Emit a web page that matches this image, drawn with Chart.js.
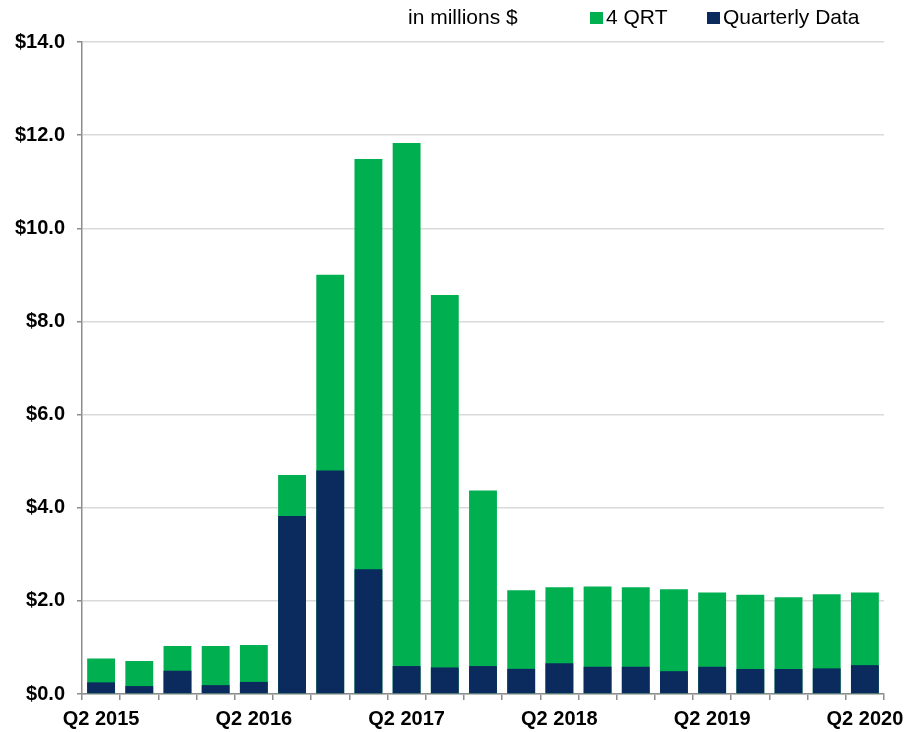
<!DOCTYPE html>
<html>
<head>
<meta charset="utf-8">
<script src="https://cdn.jsdelivr.net/npm/chart.js@4.4.1/dist/chart.umd.min.js"></script>
<style>
  html, body { margin: 0; padding: 0; background: #fff; }
  #wrap { width: 904px; height: 732px; position: relative; }
</style>
</head>
<body>
<div id="wrap"><canvas id="c" width="904" height="732"></canvas></div>
<script>
const quarters = [
  "Q2 2015","Q3 2015","Q4 2015","Q1 2016",
  "Q2 2016","Q3 2016","Q4 2016","Q1 2017",
  "Q2 2017","Q3 2017","Q4 2017","Q1 2018",
  "Q2 2018","Q3 2018","Q4 2018","Q1 2019",
  "Q2 2019","Q3 2019","Q4 2019","Q1 2020",
  "Q2 2020"
];
const fourQRT = [0.76, 0.71, 1.03, 1.03, 1.05, 4.70, 9.00, 11.49, 11.83, 8.57, 4.37,
                 2.23, 2.29, 2.31, 2.29, 2.25, 2.18, 2.13, 2.08, 2.14, 2.18];
const quarterly = [0.25, 0.17, 0.50, 0.19, 0.26, 3.82, 4.80, 2.68, 0.60, 0.57, 0.60,
                   0.54, 0.66, 0.585, 0.585, 0.49, 0.585, 0.536, 0.536, 0.55, 0.62];
const yTicks = [0, 2, 4, 6, 8, 10, 12, 14];
const shownLabels = ["Q2 2015","Q2 2016","Q2 2017","Q2 2018","Q2 2019","Q2 2020"];
const unitNote = "in millions $";

const GREEN = "#00b050";
const NAVY = "#0b2a5e";
const FONT = "'Liberation Sans', Arial, sans-serif";

const legendPlugin = {
  id: 'customLegend',
  afterDraw(chart) {
    const ctx = chart.ctx;
    ctx.save();
    ctx.font = "21px " + FONT;
    ctx.fillStyle = "#000";
    ctx.textBaseline = "middle";
    ctx.textAlign = "left";
    const y = 18;
    ctx.fillText(unitNote, 408, y);
    const items = [
      { label: chart.data.datasets[0].label, color: chart.data.datasets[0].backgroundColor, x: 590 },
      { label: chart.data.datasets[1].label, color: chart.data.datasets[1].backgroundColor, x: 707 }
    ];
    items.forEach(it => {
      ctx.fillStyle = it.color;
      ctx.fillRect(it.x, y - 6, 13, 12);
      ctx.fillStyle = "#000";
      ctx.fillText(it.label, it.x + 16, y);
    });
    ctx.restore();
  }
};

new Chart(document.getElementById('c'), {
  type: 'bar',
  data: {
    labels: quarters,
    datasets: [
      {
        label: "4 QRT",
        data: fourQRT,
        backgroundColor: GREEN,
        grouped: false,
        order: 1,
        barPercentage: 0.73,
        categoryPercentage: 1.0
      },
      {
        label: "Quarterly Data",
        data: quarterly,
        backgroundColor: NAVY,
        grouped: false,
        order: 0,
        barPercentage: 0.73,
        categoryPercentage: 1.0
      }
    ]
  },
  options: {
    responsive: false,
    animation: false,
    devicePixelRatio: 1,
    layout: { padding: { top: 42, right: 20, bottom: 0, left: 0 } },
    plugins: {
      legend: { display: false },
      tooltip: { enabled: false }
    },
    scales: {
      x: {
        grid: { offset: true, drawOnChartArea: false, drawTicks: true, tickLength: 6, color: "#8c8c8c", lineWidth: 1.5 },
        border: { color: "#8c8c8c", width: 1.5 },
        ticks: {
          autoSkip: false,
          maxRotation: 0,
          minRotation: 0,
          padding: 7,
          color: "#000",
          font: { family: FONT, size: 20, weight: 'bold' },
          callback: function(v, i) {
            const l = this.getLabelForValue(v);
            return shownLabels.includes(l) ? l : '';
          }
        },
        afterFit(scale) { scale.height = 38; scale.paddingRight = 0; scale.paddingLeft = 0; }
      },
      y: {
        min: 0,
        max: 14,
        afterBuildTicks(scale) { scale.ticks = yTicks.map(v => ({ value: v })); },
        grid: { color: "#d9d9d9", lineWidth: 1.5, tickColor: "#8c8c8c", tickLength: 5 },
        border: { color: "#8c8c8c", width: 1.5 },
        ticks: {
          padding: 12,
          color: "#000",
          font: { family: FONT, size: 20, weight: 'bold' },
          callback: v => '$' + Number(v).toFixed(1)
        },
        afterFit(scale) { scale.width = 82; scale.paddingTop = 0; scale.paddingBottom = 0; }
      }
    }
  },
  plugins: [legendPlugin]
});
</script>
</body>
</html>
